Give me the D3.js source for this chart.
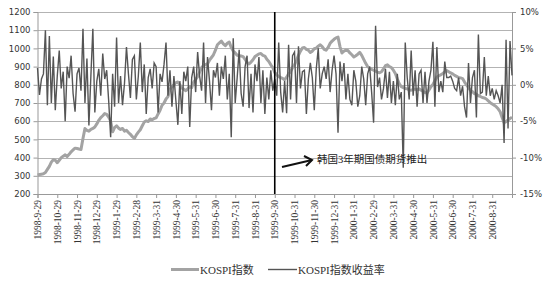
<!DOCTYPE html>
<html>
<head>
<meta charset="utf-8">
<script src="https://cdn.jsdelivr.net/npm/d3@7/dist/d3.min.js"></script>
<style>
  body { margin: 0; background: #fff; }
  svg { display: block; }
</style>
</head>
<body>
<svg id="chart" width="550" height="282"></svg>
<script>
'use strict'

// month tick labels, one every 10 points
var tickLabels = ["1998-9-29", "1998-10-29", "1998-11-29", "1998-12-29", "1999-1-29", "1999-2-28",
    "1999-3-31", "1999-4-30", "1999-5-31", "1999-6-30", "1999-7-31", "1999-8-31",
    "1999-9-30", "1999-10-31", "1999-11-30", "1999-12-31", "2000-1-31", "2000-2-29",
    "2000-3-31", "2000-4-30", "2000-5-31", "2000-6-30", "2000-7-31", "2000-8-31"];

// KOSPI index (left axis)
var kospi = [
    305, 307, 309, 311, 318, 335, 352, 375, 388, 385,
    372, 385, 400, 408, 415, 406, 418, 432, 442, 452,
    450, 447, 445, 505, 560, 550, 545, 555, 560, 568,
    585, 605, 620, 630, 642, 638, 622, 600, 542, 565,
    575, 562, 555, 560, 545, 550, 538, 528, 515, 505,
    525, 540, 553, 575, 595, 602, 598, 612, 608, 615,
    618, 640, 660, 688, 700, 722, 735, 775, 790, 800,
    812, 815, 800, 782, 775, 768, 778, 790, 785, 815,
    830, 845, 870, 895, 905, 912, 915, 935, 950, 965,
    990, 1020, 1030, 1040, 1025, 1015, 1028, 1035, 1005, 985,
    975, 962, 960, 958, 955, 940, 922, 915, 925, 938,
    955, 962, 970, 972, 962, 958, 940, 928, 910, 895,
    868, 855, 845, 840, 835, 828, 842, 860, 872, 895,
    910, 935, 962, 985, 1002, 1005, 995, 990, 978, 985,
    998, 1002, 1012, 1020, 1010, 995, 990, 1005, 1028, 1040,
    1050, 1058, 1062, 1010, 975, 985, 990, 988, 975, 965,
    953, 960, 968, 978, 962, 940, 918, 900, 892, 885,
    880, 875, 870, 866, 872, 888, 905, 910, 900, 895,
    880, 862, 832, 805, 790, 785, 780, 778, 772, 770,
    775, 776, 772, 778, 770, 765, 758, 755, 772, 790,
    802, 822, 842, 850, 855, 862, 870, 878, 872, 865,
    860, 852, 846, 840, 838, 834, 815, 800, 785, 770,
    762, 752, 748, 740, 736, 730, 728, 722, 712, 702,
    695, 688, 680, 668, 652, 620, 592, 598, 607, 615,
    622];

// KOSPI return in % (right axis)
var kospiReturn = [
    2.3, -1.4, 0.8, 1.5, 7.5, -2.8, 6.7, -2.5, 3.9, -3.5,
    1.2, 4.7, -0.5, 1.8, -5.0, 2.5, 0.9, 4.0, -1.2, -3.7,
    1.5, 2.3, -0.8, 7.7, -2.5, 3.6, -5.6, 1.2, 7.7, -3.8,
    0.5, 2.2, -1.5, 4.3, 0.8, 2.0, -2.2, -7.2, 1.5, -3.0,
    6.5, -2.5, 1.2, -2.8, 0.2, 5.2, 1.5, -1.8, 3.5, 4.0,
    -2.0, 1.2, 5.8, -1.0, 2.8, -4.0, 1.0, 2.2, -0.5, 3.0,
    2.5, -3.8, 1.5, 0.4, 2.8, 5.8, -1.5, 2.0, -3.0, 1.2,
    -2.2, -5.5, 0.5, -4.0, 1.8, 0.5, 2.5, -5.8, 1.0, 2.5,
    -1.0, 4.5, 1.2, -0.8, 5.8, -2.5, 3.8, 0.5, -3.5, 2.0,
    1.0, 3.0, -1.5, 2.5, 0.8, 4.0, -2.0, 1.5, -7.2, 6.4,
    -2.5, 1.0, 4.8, -1.2, -3.0, 2.5, 4.0, -3.2, 1.5, -3.8,
    2.8, 0.5, 3.8, -2.5, 2.0, -4.0, 1.0, -2.0, 2.0, -0.8,
    0.8, -1.5, 5.8, -1.0, -3.8, 0.5, -3.9, 5.5, -2.0, 4.0,
    4.5, -2.5, 5.3, -0.5, 1.8, 2.0, -4.0, 0.8, 3.0, 1.0,
    -3.5, 2.2, 5.0, -0.5, 1.5, 2.5, 0.8, 3.5, -1.0, 2.0,
    4.0, 1.5, -6.6, 3.2, 0.5, 3.0, -2.0, 1.5, -2.0, -2.8,
    2.0, 0.5, -3.0, -1.5, 2.5, 0.8, -2.8, 1.5, 2.5, -1.0,
    -5.2, 8.1, -0.3, 1.0, -2.0, -0.5, 2.2, -1.8, 1.8, -2.5,
    0.5, -2.8, 1.5, -2.0, -1.0, -11.4, 5.8, 1.0, -2.0, 4.7,
    -1.5, 2.0, -3.0, 1.5, 2.0, -2.5, 1.8, -2.5, 0.5, 2.0,
    5.9, -3.0, 5.2, -1.0, 0.5, -1.0, 3.2, 1.0, 1.0, 1.2,
    0.5, -0.5, -0.8, 1.0, -1.5, -0.2, -3.0, -4.5, 3.0, -2.5,
    1.0, 2.0, -4.5, 6.9, -1.2, -1.0, 3.8, -1.5, 1.2, -1.5,
    -0.5, -2.0, -0.8, -1.5, -2.5, 0.0, -8.0, 6.2, -6.0, 6.0,
    1.3];

var leftTicks = [200, 300, 400, 500, 600, 700, 800, 900, 1000, 1100, 1200];
var rightTicks = [-15, -10, -5, 0, 5, 10];
var eventIndex = 120;   // 1999-9-30
var eventText = "韩国3年期国债期货推出";
var seriesNames = ["KOSPI指数", "KOSPI指数收益率"];

var svg = d3.select("#chart");
var plotLeft = 37.5, plotRight = 512, plotTop = 12, plotBottom = 194;
var serif = "'Liberation Serif', 'Times New Roman', 'Noto Sans CJK SC', serif";
var sans = "'DejaVu Sans', Verdana, sans-serif";

var x = d3.scaleLinear().domain([0, kospi.length - 1]).range([plotLeft, plotRight]);
var yL = d3.scaleLinear().domain([200, 1200]).range([plotBottom, plotTop]);
var yR = d3.scaleLinear().domain([-15, 10]).range([plotBottom, plotTop]);

// grid
svg.append("g")
    .selectAll("line")
    .data(leftTicks.slice(1))
    .enter().append("line")
    .attr("x1", plotLeft).attr("x2", plotRight)
    .attr("y1", (d) => Math.round(yL(d)) + 0.5)
    .attr("y2", (d) => Math.round(yL(d)) + 0.5)
    .attr("stroke", "#b3b3b3")
    .attr("stroke-width", 1);

// left axis
var gL = svg.append("g")
    .attr("transform", `translate(${plotLeft},0)`)
    .call(d3.axisLeft(yL).tickValues(leftTicks).tickSize(4).tickPadding(3)
        .tickFormat(d3.format("d")));
gL.selectAll("text").attr("font-family", sans).attr("font-size", 8.5).attr("fill", "#333");

// right axis
var gR = svg.append("g")
    .attr("transform", `translate(${plotRight},0)`)
    .call(d3.axisRight(yR).tickValues(rightTicks).tickSize(4).tickPadding(4)
        .tickFormat((d) => d + "%"));
gR.selectAll("text").attr("font-family", sans).attr("font-size", 8.5).attr("fill", "#333");

// bottom axis
var monthIdx = tickLabels.map((d, i) => i * 10);
var gB = svg.append("g")
    .attr("transform", `translate(0,${plotBottom})`)
    .call(d3.axisBottom(x).tickValues(monthIdx.concat([240])).tickSize(4)
        .tickFormat((d, i) => tickLabels[i] || ""));
gB.selectAll("text")
    .attr("font-family", serif)
    .attr("font-size", 9.5)
    .attr("fill", "#333")
    .attr("text-anchor", "end")
    .attr("transform", "rotate(-90)")
    .attr("x", -6)
    .attr("y", 0)
    .attr("dy", "0.33em");

svg.selectAll(".domain").attr("stroke", "#999");
svg.selectAll(".tick line").attr("stroke", "#999");

// KOSPI index, thick light line
svg.append("path")
    .datum(kospi)
    .attr("fill", "none")
    .attr("stroke", "#a3a3a3")
    .attr("stroke-width", 3)
    .attr("stroke-linejoin", "round")
    .attr("d", d3.line().x((d, i) => x(i)).y((d) => yL(d)));

// returns, thin dark line
svg.append("path")
    .datum(kospiReturn)
    .attr("fill", "none")
    .attr("stroke", "#555")
    .attr("stroke-width", 1.4)
    .attr("d", d3.line().x((d, i) => x(i)).y((d) => yR(d)));

// event marker
svg.append("line")
    .attr("x1", x(eventIndex)).attr("x2", x(eventIndex))
    .attr("y1", plotTop).attr("y2", plotBottom)
    .attr("stroke", "#000")
    .attr("stroke-width", 1.6);

// annotation arrow
var ax1 = 282, ay1 = 167, ax2 = 312, ay2 = 160;
svg.append("line")
    .attr("x1", ax1).attr("y1", ay1).attr("x2", ax2).attr("y2", ay2)
    .attr("stroke", "#111").attr("stroke-width", 2);
svg.append("path")
    .attr("d", `M${ax2 - 8},${ay2 - 4} L${ax2},${ay2} L${ax2 - 6},${ay2 + 6}`)
    .attr("fill", "none").attr("stroke", "#111").attr("stroke-width", 2);
svg.append("text")
    .attr("x", 317).attr("y", 163)
    .attr("font-family", serif)
    .attr("font-size", 10.5)
    .attr("fill", "#222")
    .text(eventText);

// legend
var legend = svg.append("g").attr("font-family", serif).attr("font-size", 11).attr("fill", "#333");
legend.append("line").attr("x1", 171).attr("x2", 199).attr("y1", 269.5).attr("y2", 269.5)
    .attr("stroke", "#a3a3a3").attr("stroke-width", 3);
legend.append("text").attr("x", 200).attr("y", 273.5).text(seriesNames[0]);
legend.append("line").attr("x1", 268).attr("x2", 297).attr("y1", 269.5).attr("y2", 269.5)
    .attr("stroke", "#555").attr("stroke-width", 1.4);
legend.append("text").attr("x", 298).attr("y", 273.5).text(seriesNames[1]);
</script>
</body>
</html>
